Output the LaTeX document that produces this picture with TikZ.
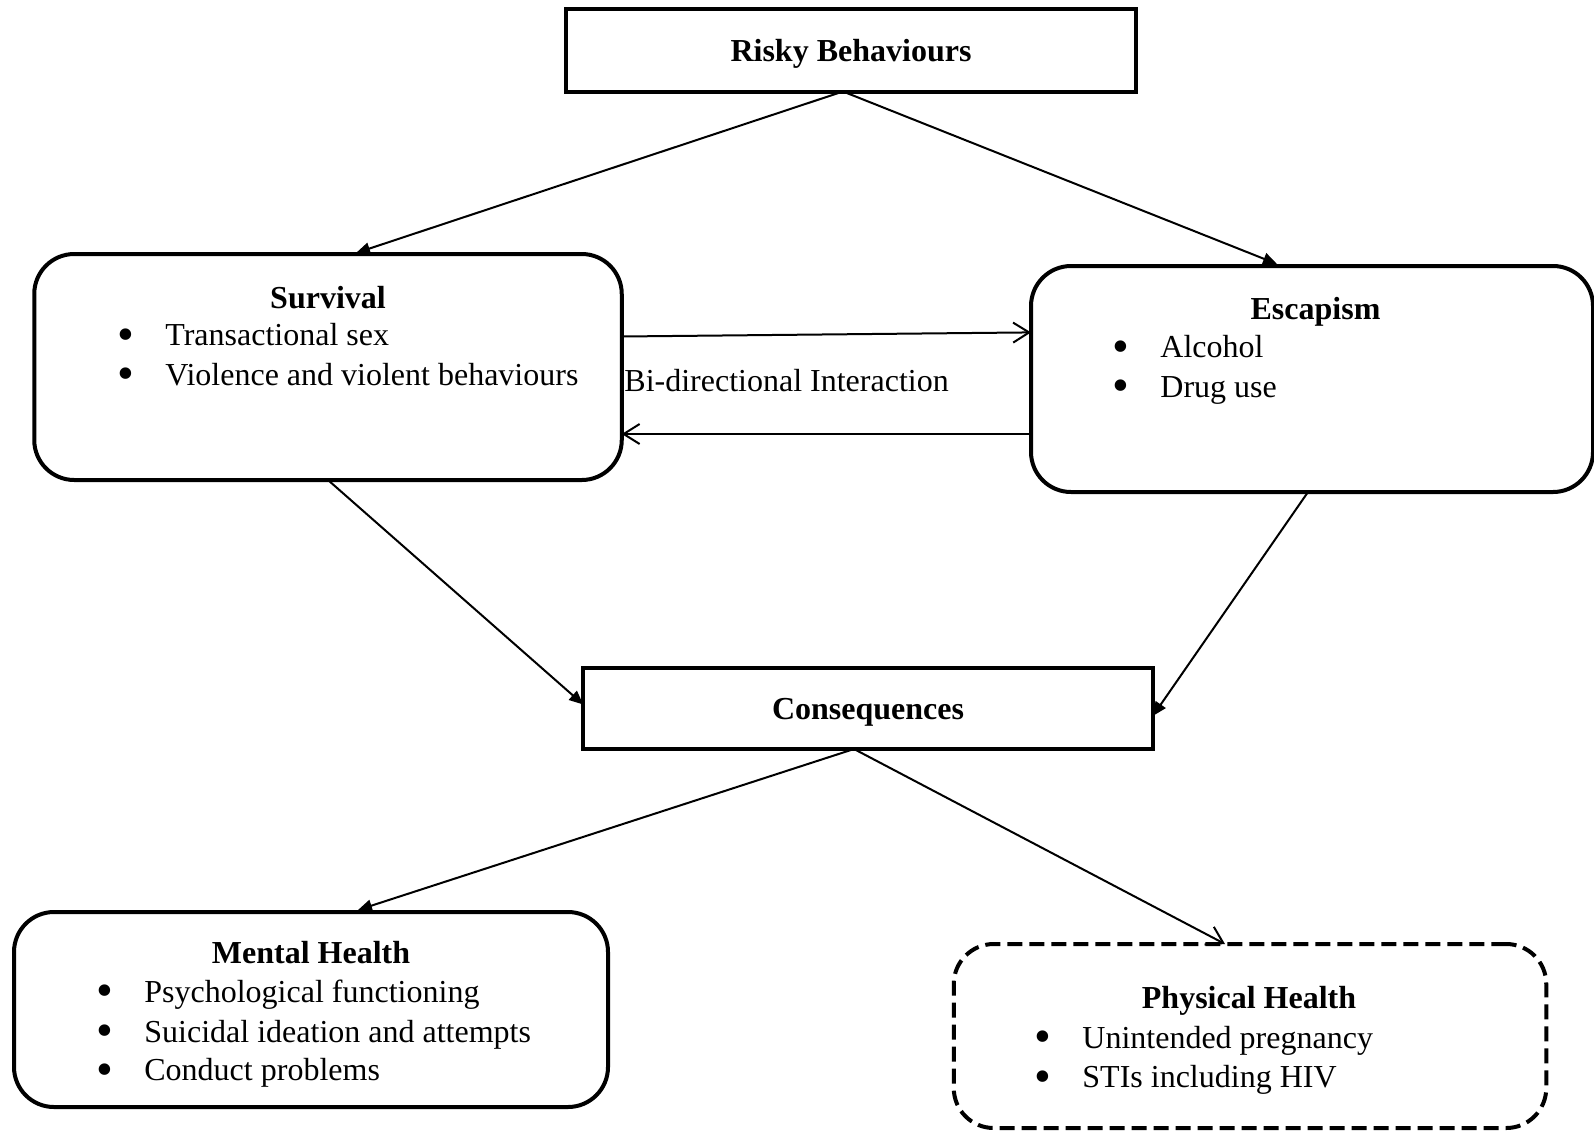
\documentclass[tikz,border=0pt]{standalone}
\usepackage{fontspec}
\setmainfont{Liberation Serif}
\usepackage{xcolor}
\usepackage{tikz}
\usetikzlibrary{arrows.meta, positioning, calc}
\definecolor{inkblack}{HTML}{000000}
\newcommand{\bitem}[4]{% name, x, y, text
  \node[itemtext, anchor=base west] (#1) at (#2,#3) {\makebox[24pt][l]{\smash{\raisebox{-2.3pt}{\scalebox{1.5}{\textbullet}}}}#4};%
}
\tikzset{
  arr/.style={-{Triangle[length=7pt, width=6pt]}, line width=1pt, inkblack},
  oarr/.style={-{Straight Barb[length=8pt, width=10pt, line width=1pt]}, line width=1pt, inkblack},
  sqbox/.style={rectangle, draw=inkblack, line width=2pt, inner sep=0pt, outer sep=0pt},
  rbox/.style={sqbox, rounded corners=20pt},
  dbox/.style={rbox, dash pattern=on 7.5pt off 3.5pt},
  boxtitle/.style={font=\fontsize{16}{19}\selectfont\bfseries, inner sep=0pt, text=inkblack},
  itemtext/.style={font=\fontsize{16}{19}\selectfont, inner sep=0pt, text=inkblack},
}

\begin{document}
\begin{tikzpicture}[x=0.5pt, y=-0.5pt]
  \useasboundingbox (0,0) rectangle (1594,1130);

  \node[sqbox, minimum width=285pt, minimum height=41.5pt] (risky) at (851,50) {};
  \node[rbox, minimum width=293.75pt, minimum height=113pt] (survival) at (328,367) {};
  \node[rbox, minimum width=281pt, minimum height=113pt] (escapism) at (1312,379) {};
  \node[sqbox, minimum width=284.75pt, minimum height=40.5pt] (conseq) at (868,708.5) {};
  \node[rbox, minimum width=297pt, minimum height=97.5pt] (mental) at (311,1009.5) {};
  \node[dbox, minimum width=296.25pt, minimum height=92pt] (physical) at (1250,1036) {};

  \node[boxtitle, anchor=base] (riskytitle) at (851,61) {Risky Behaviours};
  \node[boxtitle, anchor=base] (survtitle) at (328,308) {Survival};
  \bitem{transsex}{117}{345.5}{Transactional sex}
  \bitem{violence}{117}{385}{Violence and violent behaviours}
  \node[boxtitle, anchor=base] (esctitle) at (1315.5,319) {Escapism};
  \bitem{alcohol}{1112}{357.7}{Alcohol}
  \bitem{druguse}{1112}{397.3}{Drug use}
  \node[itemtext, anchor=base west] (bidir) at (624,391) {Bi-directional Interaction};
  \node[boxtitle, anchor=base] (constitle) at (868,719.6) {Consequences};
  \node[boxtitle, anchor=base] (menttitle) at (311,963.6) {Mental Health};
  \bitem{psych}{96}{1002}{Psychological functioning}
  \bitem{suicide}{96}{1042}{Suicidal ideation and attempts}
  \bitem{conduct}{96}{1080.5}{Conduct problems}
  \node[boxtitle, anchor=base] (phystitle) at (1249,1008) {Physical Health};
  \bitem{pregnancy}{1034}{1048}{Unintended pregnancy}
  \bitem{stis}{1034}{1087.6}{STIs including HIV}

  \draw[arr] ($(risky.south)+(-8,0)$) -- ($(survival.north)+(28,-1)$);
  \draw[arr] ($(risky.south)+(-8,0)$) -- ($(escapism.north)+(-35,-2)$);
  \draw[oarr] ($(survival.east)+(0,-30.5)$) -- ($(escapism.west)+(0,-46.6)$);
  \draw[oarr] ($(escapism.west)+(0,55)$) -- ($(survival.east)+(0,67)$);
  \draw[arr] (survival.south) -- ($(conseq.west)+(0,-4)$);
  \draw[arr] ($(escapism.south)+(-4,0)$) -- ($(conseq.east)+(0,7.5)$);
  \draw[arr] ($(conseq.south)+(-14,0)$) -- ($(mental.north)+(47,-2)$);
  \draw[oarr] ($(conseq.south)+(-14,0)$) -- ($(physical.north)+(-25,0)$);
\end{tikzpicture}
\end{document}
